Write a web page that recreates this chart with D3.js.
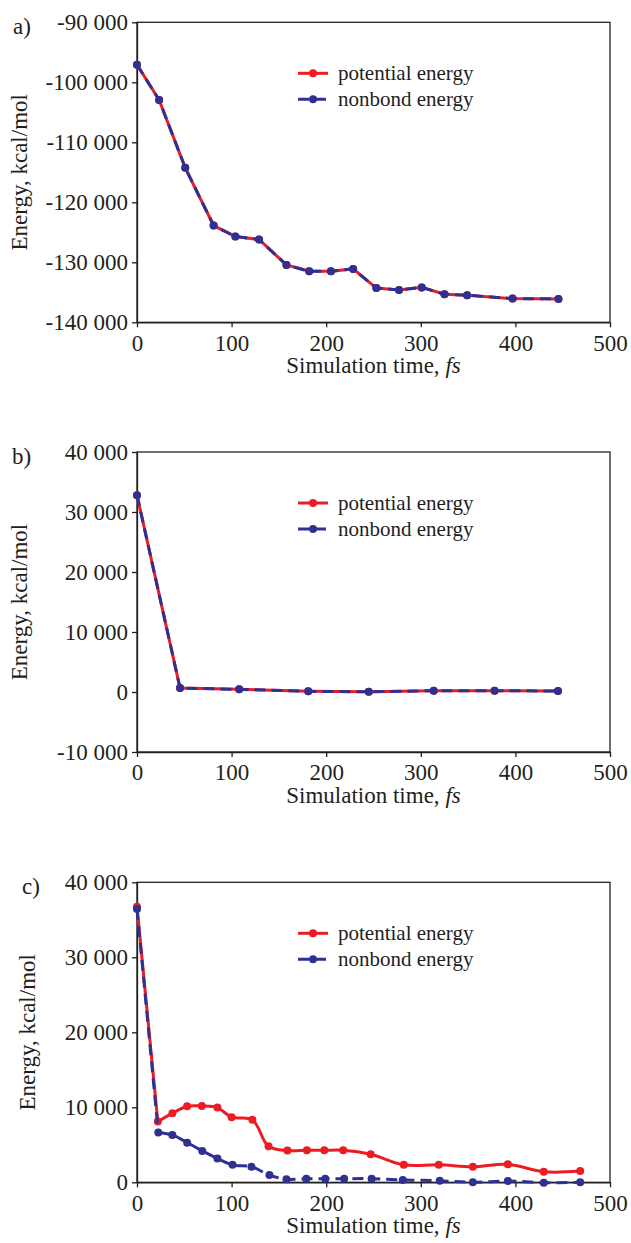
<!DOCTYPE html>
<html>
<head>
<meta charset="utf-8">
<script src="https://cdnjs.cloudflare.com/ajax/libs/d3/7.8.5/d3.min.js"></script>
<style>
  body { margin: 0; background: #fff; }
  svg { display: block; font-family: "Liberation Serif", "Times New Roman", serif; }
</style>
</head>
<body>
<svg id="chart" width="631" height="1243"></svg>
<script>
// panel a
var timeA = [0, 23.4, 51, 81, 104, 129, 158, 182, 205, 228.5, 253, 277, 301, 325, 349, 397, 445.5];
var potentialA = [-97070, -102940, -114260, -123870, -125700, -126200, -130440, -131490, -131490, -131100, -134290, -134630, -134180, -135310, -135480, -136050, -136100];
var nonbondA = [-97070, -102940, -114260, -123870, -125700, -126200, -130440, -131490, -131490, -131100, -134290, -134630, -134180, -135310, -135480, -136050, -136100];

// panel b
var timeB = [0, 45.5, 108, 181, 245, 313.6, 378, 445];
var potentialB = [32800, 660, 440, 110, 30, 220, 220, 160];
var nonbondB = [32800, 660, 440, 110, 30, 220, 220, 160];

// panel c
var timeCp = [0, 22, 37.4, 53, 68.5, 85, 100, 122, 139, 159, 179.6, 198, 218, 247, 282, 319, 355, 392, 430, 468.5];
var potentialC = [36750, 8100, 9200, 10130, 10180, 9960, 8680, 8330, 4800, 4230, 4270, 4270, 4270, 3740, 2330, 2330, 2080, 2400, 1410, 1500];
var timeCn = [0, 22.5, 37.4, 53, 69, 85, 101, 121, 140, 158, 179, 199, 219, 248, 281, 320, 355, 392, 430, 468.5];
var nonbondC = [36440, 6650, 6300, 5290, 4190, 3170, 2330, 2070, 970, 400, 480, 480, 480, 480, 310, 210, 0, 170, -60, 0];

var xTicks = [0, 100, 200, 300, 400, 500];
var yTicksA = [-140000, -130000, -120000, -110000, -100000, -90000];
var yTicksB = [-10000, 0, 10000, 20000, 30000, 40000];
var yTicksC = [0, 10000, 20000, 30000, 40000];

var seriesNames = ["potential energy", "nonbond energy"];
var red = "#ed1c24", blue = "#2e3192", ink = "#231f20";

var fmt = d3.formatLocale({decimal: ".", thousands: " ", grouping: [3], currency: ["", ""], minus: "-"}).format(",");

var svg = d3.select("#chart");
svg.append("rect").attr("width", 631).attr("height", 1243).attr("fill", "#fff");

var left = 137, right = 610, plotH = 300;

function zip(xs, ys) {
  return xs.map(function(x, i) { return [x, ys[i]]; });
}

function drawPanel(o) {
  var g = svg.append("g").attr("transform", "translate(0," + o.top + ")");
  var x = d3.scaleLinear().domain([0, 500]).range([left, right]);
  var y = d3.scaleLinear().domain(o.yDomain).range([plotH, 0]);

  // frame
  g.append("rect")
      .attr("x", left).attr("y", 0)
      .attr("width", right - left).attr("height", plotH)
      .attr("fill", "none").attr("stroke", ink).attr("stroke-width", 1.3);

  var xAxis = g.append("g")
      .attr("transform", "translate(0," + plotH + ")")
      .call(d3.axisBottom(x).tickValues(xTicks).tickSize(5).tickSizeOuter(0).tickPadding(7));
  var yAxis = g.append("g")
      .attr("transform", "translate(" + left + ",0)")
      .call(d3.axisLeft(y).tickValues(o.yTicks).tickFormat(fmt).tickSize(5).tickSizeOuter(0).tickPadding(4));

  [xAxis, yAxis].forEach(function(a) {
    a.select(".domain").attr("stroke", ink).attr("stroke-width", 1.3);
    a.selectAll(".tick line").attr("stroke", ink).attr("stroke-width", 1.3);
    a.selectAll(".tick text").attr("fill", ink).style("font-size", "23px")
        .style("font-family", "'Liberation Serif', serif");
  });

  var straight = d3.line()
      .x(function(d) { return x(d[0]); })
      .y(function(d) { return y(d[1]); });
  var smooth = d3.line()
      .x(function(d) { return x(d[0]); })
      .y(function(d) { return y(d[1]); })
      .curve(d3.curveCatmullRom);

  // smoothed panels: first drop drawn straight, the rest smoothed from the 2nd point on
  function path(pts) {
    if (!o.smooth) return straight(pts);
    return straight(pts.slice(0, 2)) + smooth(pts.slice(1));
  }

  var pot = zip(o.tp, o.pot), non = zip(o.tn, o.non);

  g.append("path").attr("d", path(pot)).attr("fill", "none")
      .attr("stroke", red).attr("stroke-width", 3);
  g.append("g").selectAll("circle").data(pot).enter().append("circle")
      .attr("cx", function(d) { return x(d[0]); })
      .attr("cy", function(d) { return y(d[1]); })
      .attr("r", 4).attr("fill", red);

  g.append("path").attr("d", path(non)).attr("fill", "none")
      .attr("stroke", blue).attr("stroke-width", 3)
      .attr("stroke-dasharray", "11,6");
  g.append("g").selectAll("circle").data(non).enter().append("circle")
      .attr("cx", function(d) { return x(d[0]); })
      .attr("cy", function(d) { return y(d[1]); })
      .attr("r", 4).attr("fill", blue);

  // legend
  var lg = g.append("g");
  [[red, null, 51], [blue, "11,6", 77]].forEach(function(s, i) {
    lg.append("line")
        .attr("x1", 298).attr("x2", 328).attr("y1", s[2]).attr("y2", s[2])
        .attr("stroke", s[0]).attr("stroke-width", 3)
        .attr("stroke-dasharray", s[1]);
    lg.append("circle").attr("cx", 313).attr("cy", s[2]).attr("r", 4).attr("fill", s[0]);
    lg.append("text")
        .attr("x", 338).attr("y", s[2] + 7)
        .attr("fill", ink).style("font-size", "21px")
        .text(seriesNames[i]);
  });

  // axis titles
  var xt = g.append("text")
      .attr("x", (left + right) / 2).attr("y", plotH + 51)
      .attr("text-anchor", "middle").attr("fill", ink).style("font-size", "23px");
  xt.append("tspan").text("Simulation time, ");
  xt.append("tspan").style("font-style", "italic").text("fs");

  g.append("text")
      .attr("transform", "translate(" + o.yTitleX + "," + (plotH / 2) + ") rotate(-90)")
      .attr("text-anchor", "middle").attr("fill", ink).style("font-size", "23px")
      .text("Energy, kcal/mol");

  g.append("text")
      .attr("x", o.labelX).attr("y", 12)
      .attr("fill", ink).style("font-size", "23px")
      .text(o.label);
}

drawPanel({top: 22.3, yDomain: [-140000, -90000], yTicks: yTicksA, tp: timeA, pot: potentialA, tn: timeA, non: nonbondA,
  smooth: false, label: "a)", labelX: 13, yTitleX: 27});
drawPanel({top: 452, yDomain: [-10000, 40000], yTicks: yTicksB, tp: timeB, pot: potentialB, tn: timeB, non: nonbondB,
  smooth: false, label: "b)", labelX: 12, yTitleX: 27});
drawPanel({top: 882.3, yDomain: [0, 40000], yTicks: yTicksC, tp: timeCp, pot: potentialC, tn: timeCn, non: nonbondC,
  smooth: true, label: "c)", labelX: 22, yTitleX: 35});
</script>
</body>
</html>
